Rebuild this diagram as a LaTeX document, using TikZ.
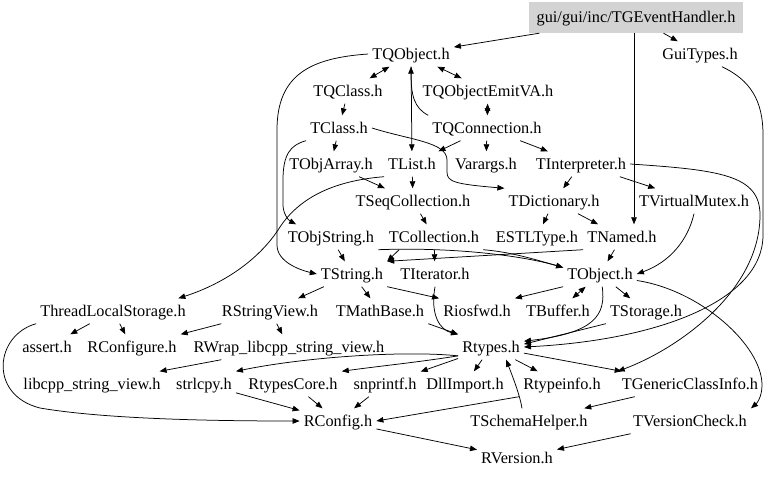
\documentclass[tikz,border=0pt]{standalone}
\usepackage{fontspec}
\setmainfont{Liberation Serif}
\usetikzlibrary{arrows.meta}

\definecolor{rootgray}{RGB}{211,211,211}

\tikzset{
  hdr/.style={font=\fontsize{16.3}{19}\selectfont, inner xsep=4pt, inner ysep=0pt,
    minimum height=25pt, text height=10.8pt, text depth=0pt},
  rootbox/.style={hdr, fill=rootgray, minimum height=31pt, inner xsep=8pt},
  incl/.style={->, line width=0.75pt},
}

\begin{document}
\begin{tikzpicture}[x=1pt,y=-1pt,>={Triangle[length=7pt,width=5.5pt]}]
    \useasboundingbox (0,0) rectangle (768,477);

    % the headers, row by row
    \node[rootbox] (tgeh) at (636,17.5) {gui/gui/inc/TGEventHandler.h};

    \node[hdr] (tqobject) at (411,54) {TQObject.h};
    \node[hdr] (guitypes) at (700,54) {GuiTypes.h};

    \node[hdr] (tqclass) at (348,91) {TQClass.h};
    \node[hdr] (tqemitva) at (488,91) {TQObjectEmitVA.h};

    \node[hdr] (tclass) at (339,128) {TClass.h};
    \node[hdr] (tqconn) at (487,128) {TQConnection.h};

    \node[hdr] (tobjarray) at (331,164) {TObjArray.h};
    \node[hdr] (tlist) at (412,164) {TList.h};
    \node[hdr] (varargs) at (486,164) {Varargs.h};
    \node[hdr] (tinterp) at (581,164) {TInterpreter.h};

    \node[hdr] (tseqcoll) at (413,201) {TSeqCollection.h};
    \node[hdr] (tdict) at (554,201) {TDictionary.h};
    \node[hdr] (tvmutex) at (694,201) {TVirtualMutex.h};

    \node[hdr] (tobjstring) at (331,237) {TObjString.h};
    \node[hdr] (tcollection) at (434,237) {TCollection.h};
    \node[hdr] (estltype) at (537,237) {ESTLType.h};
    \node[hdr] (tnamed) at (622,237) {TNamed.h};

    \node[hdr] (tstring) at (352,274) {TString.h};
    \node[hdr] (titerator) at (435,274) {TIterator.h};
    \node[hdr] (tobject) at (600,274) {TObject.h};

    \node[hdr] (tls) at (113,311) {ThreadLocalStorage.h};
    \node[hdr] (rstringview) at (270,311) {RStringView.h};
    \node[hdr] (tmathbase) at (380,311) {TMathBase.h};
    \node[hdr] (riosfwd) at (477,311) {Riosfwd.h};
    \node[hdr] (tbuffer) at (558,311) {TBuffer.h};
    \node[hdr] (tstorage) at (646,311) {TStorage.h};

    \node[hdr] (assert) at (47,347) {assert.h};
    \node[hdr] (rconfigure) at (132,347) {RConfigure.h};
    \node[hdr] (rwrap) at (289,347) {RWrap\_libcpp\_string\_view.h};
    \node[hdr] (rtypes) at (491,347) {Rtypes.h};

    \node[hdr] (libcpp) at (92,384) {libcpp\_string\_view.h};
    \node[hdr] (strlcpy) at (204,384) {strlcpy.h};
    \node[hdr] (rtypescore) at (293,384) {RtypesCore.h};
    \node[hdr] (snprintf) at (385,384) {snprintf.h};
    \node[hdr] (dllimport) at (465,384) {DllImport.h};
    \node[hdr] (rtypeinfo) at (562,384) {Rtypeinfo.h};
    \node[hdr] (tgci) at (690,384) {TGenericClassInfo.h};

    \node[hdr] (rconfig) at (338,421) {RConfig.h};
    \node[hdr] (tschema) at (529,421) {TSchemaHelper.h};
    \node[hdr] (tvcheck) at (690,421) {TVersionCheck.h};

    \node[hdr] (rversion) at (517,458) {RVersion.h};

    % top of the graph
    \coordinate (xline) at (634,0);
    \draw[incl] (tgeh) -- (tqobject);
    \draw[incl] (tgeh) -- (guitypes);
    \draw[incl] (tgeh.south -| xline) -- (tnamed.north -| xline);

    \draw[incl,<->] (tqobject) -- (tqclass);
    \draw[incl,<->] (tqobject) -- (tqemitva);
    \draw[incl,<->] (tqemitva) -- (tqconn);
    \draw[incl] (tqconn.north west) .. controls (414,108) and (411,95) .. (tqobject.south);
    \draw[incl] (tqobject) -- (tlist);
    \draw[incl] (tqobject.west) .. controls (310,58) and (277,75) .. (277,130)
        -- (277,245) .. controls (277,262) and (300,270) .. (tstring.west);

    \draw[incl] (tqclass) -- (tclass);
    \draw[incl] (tclass) -- (tobjarray);
    \draw[incl] (tclass.east) .. controls (410,140) and (447,142) .. (447,160)
        -- (447,172) .. controls (447,182) and (455,184) .. (tdict.north west);
    \draw[incl] (tclass.south west) .. controls (290,145) and (283,155) .. (283,180)
        -- (283,205) .. controls (283,213) and (288,220) .. (tobjstring.160);

    \draw[incl] (tqconn) -- (tlist);
    \draw[incl] (tqconn) -- (varargs);
    \draw[incl] (tqconn) -- (tinterp);

    % middle rows
    \draw[incl] (tlist) -- (tseqcoll);
    \draw[incl] (tobjarray) -- (tseqcoll);
    \draw[incl] (tlist.south west) .. controls (330,181) and (298,200) .. (280,227)
        .. controls (258,262) and (220,285) .. (tls.11);
    \draw[incl] (tseqcoll) -- (tcollection);
    \draw[incl] (tinterp) -- (tdict);
    \draw[incl] (tinterp) -- (tvmutex);
    \draw[incl] (tinterp.east) .. controls (720,170) and (760,175) .. (760,215)
        .. controls (760,290) and (680,348) .. (tgci.north west);
    \draw[incl] (tdict) -- (estltype);
    \draw[incl] (tdict) -- (tnamed);
    \draw[incl] (tvmutex.south) .. controls (688,240) and (670,262) .. (tobject.east);

    \draw[incl] (tnamed) -- (tobject);
    \draw[incl] (tnamed.south west) -- (tstring.north east);
    \draw[incl] (tobjstring) -- (tstring);
    \draw[incl] (tobjstring.south east) .. controls (450,247) and (520,255) .. (tobject.170);
    \draw[incl] (tcollection.south east) .. controls (510,252) and (530,258) .. (tobject.170);
    \draw[incl] (tcollection.-160) -- (tstring.north east);
    \draw[incl] (tcollection) -- (titerator);

    \draw[incl] (tstring) -- (rstringview);
    \draw[incl] (tstring) -- (tmathbase);
    \draw[incl] (tstring.south east) -- (riosfwd.north west);
    \draw[incl] (titerator.south) .. controls (430,315) and (440,330) .. (rtypes.north west);
    \draw[incl] (tmathbase.south east) -- (rtypes.north west);

    \draw[incl] (tobject.south west) -- (riosfwd.north east);
    \draw[incl,<->] (tobject) -- (tbuffer);
    \draw[incl] (tobject) -- (tstorage);
    \draw[incl] (tobject.-80) .. controls (606,315) and (595,333) .. (rtypes.10);
    \draw[incl] (tstorage.south west) -- (rtypes.5);
    \draw[incl] (guitypes.-30) .. controls (750,80) and (763,100) .. (763,135)
        -- (763,235) .. controls (763,300) and (660,340) .. (rtypes.east);
    \draw[incl] (tobject.-10) .. controls (700,290) and (762,345) .. (762,385)
        .. controls (762,398) and (756,404) .. (tvcheck.north east);

    % lower rows
    \draw[incl] (tls) -- (assert);
    \draw[incl] (tls) -- (rconfigure);
    \draw[incl] (tls.south west) .. controls (-5,335) and (-12,395) .. (40,408)
        .. controls (110,420) and (230,421) .. (rconfig.west);
    \draw[incl] (rstringview) -- (rconfigure);
    \draw[incl] (rstringview) -- (rwrap);
    \draw[incl] (rwrap) -- (libcpp);

    \draw[incl] (rtypes.-165) .. controls (400,350) and (300,358) .. (strlcpy.north east);
    \draw[incl] (rtypes.-165) .. controls (420,362) and (380,366) .. (rtypescore.north east);
    \draw[incl] (rtypes) -- (snprintf);
    \draw[incl] (rtypes) -- (dllimport);
    \draw[incl] (rtypes) -- (rtypeinfo);
    \draw[incl] (rtypes) -- (tgci);
    \draw[incl] (tschema.119) .. controls (520,395) and (512,375) .. (rtypes.-40);
    \draw[incl] (rtypeinfo.south west) -- (rconfig.east);
    \draw[incl] (tgci) -- (tschema);

    \draw[incl] (strlcpy) -- (rconfig);
    \draw[incl] (rtypescore) -- (rconfig);
    \draw[incl] (snprintf) -- (rconfig);
    \draw[incl] (rconfig) -- (rversion);
    \draw[incl] (tvcheck) -- (rversion);
\end{tikzpicture}
\end{document}
